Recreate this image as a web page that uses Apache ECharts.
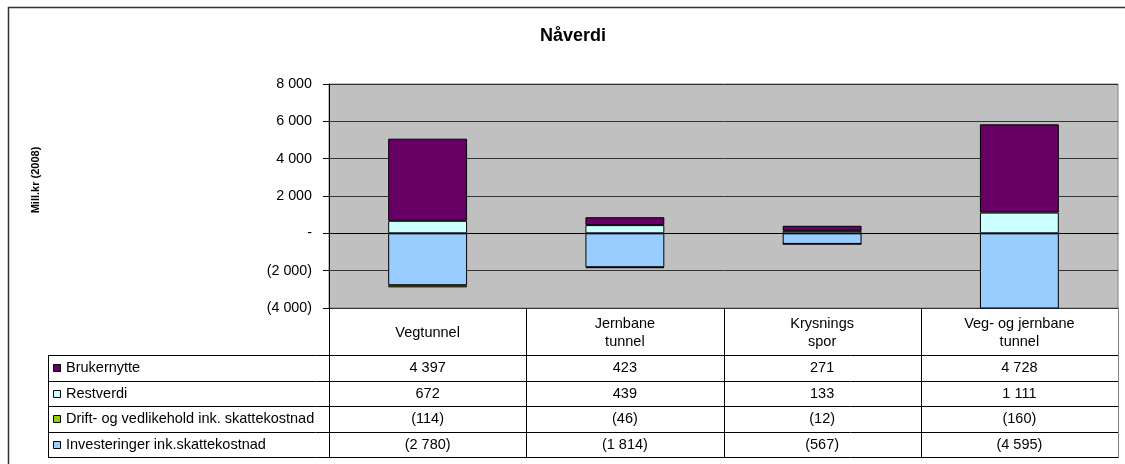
<!DOCTYPE html>
<html>
<head>
<meta charset="utf-8">
<script src="https://cdn.jsdelivr.net/npm/echarts@6/dist/echarts.min.js"></script>
<style>
html,body{margin:0;padding:0;background:#fff;}
#chart{width:1125px;height:464px;}
</style>
</head>
<body>
<div id="chart"></div>
<script>
// ---- data ----
const title = 'Nåverdi';
const yAxisTitle = 'Mill.kr (2008)';
const categories = ['Vegtunnel', 'Jernbane\ntunnel', 'Krysnings\nspor', 'Veg- og jernbane\ntunnel'];
const brukernytte = [4397, 423, 271, 4728];
const restverdi = [672, 439, 133, 1111];
const drift = [-114, -46, -12, -160];
const investeringer = [-2780, -1814, -567, -4595];
const seriesNames = ['Brukernytte', 'Restverdi', 'Drift- og vedlikehold ink. skattekostnad', 'Investeringer ink.skattekostnad'];
const seriesValues = [brukernytte, restverdi, drift, investeringer];
const seriesColors = ['#660066', '#CCFFFF', '#99CC00', '#99CCFF'];
const yMin = -4000, yMax = 8000, yStep = 2000;

// ---- helpers ----
function fmt(v) {
  if (v === 0) return '-';
  const s = String(Math.abs(v)).replace(/\B(?=(\d{3})+(?!\d))/g, ' ');
  return v < 0 ? '(' + s + ')' : s;
}

// ---- layout ----
const FONT = '"Liberation Sans", Arial, sans-serif';
const G = { left: 329, top: 84, width: 789, height: 224 };
const gBottom = G.top + G.height;
const headerBottom = 355;
const rowH = 25.5;
const tableLeft = 48;
const tableBottom = headerBottom + rowH * seriesNames.length;
const catW = G.width / categories.length;
const FS = 14.5;

const graphics = [];
// outer frame
graphics.push({ type: 'rect', shape: { x: 8.5, y: 7.5, width: 1140, height: 480 }, style: { fill: 'none', stroke: '#333', lineWidth: 1.5 }, silent: true });
// y axis title
graphics.push({ type: 'text', x: 36, y: 180, rotation: Math.PI / 2,
  style: { text: yAxisTitle, font: 'bold 11px ' + FONT, fill: '#000', align: 'center', verticalAlign: 'middle' } });
// table horizontal lines
graphics.push({ type: 'line', shape: { x1: G.left, y1: gBottom + 0.5, x2: G.left + G.width, y2: gBottom + 0.5 }, style: { stroke: '#000', lineWidth: 1 } });
for (let i = 0; i <= seriesNames.length; i++) {
  const y = Math.round(headerBottom + rowH * i) + 0.5;
  graphics.push({ type: 'line', shape: { x1: tableLeft, y1: y, x2: G.left + G.width, y2: y }, style: { stroke: '#000', lineWidth: 1 } });
}
// table vertical lines
graphics.push({ type: 'line', shape: { x1: tableLeft + 0.5, y1: headerBottom, x2: tableLeft + 0.5, y2: tableBottom + 1 }, style: { stroke: '#000', lineWidth: 1 } });
for (let c = 0; c <= categories.length; c++) {
  const x = Math.round(G.left + catW * c) + 0.5;
  graphics.push({ type: 'line', shape: { x1: x, y1: gBottom, x2: x, y2: tableBottom + 1 }, style: { stroke: c === categories.length ? '#808080' : '#000', lineWidth: 1 } });
}
// header labels
categories.forEach((name, c) => {
  graphics.push({ type: 'text', x: G.left + catW * (c + 0.5), y: (gBottom + headerBottom) / 2 + 1,
    style: { text: name, font: FS + 'px ' + FONT, fill: '#000', align: 'center', verticalAlign: 'middle', lineHeight: 18 } });
});
// rows
seriesNames.forEach((name, r) => {
  const cy = headerBottom + rowH * (r + 0.5) + 0.5;
  graphics.push({ type: 'rect', shape: { x: 53.5, y: Math.round(cy) - 3.5, width: 7, height: 7 }, style: { fill: seriesColors[r], stroke: '#000', lineWidth: 1 } });
  graphics.push({ type: 'text', x: 66, y: cy, style: { text: name, font: FS + 'px ' + FONT, fill: '#000', align: 'left', verticalAlign: 'middle' } });
  seriesValues[r].forEach((v, c) => {
    graphics.push({ type: 'text', x: G.left + catW * (c + 0.5), y: cy,
      style: { text: fmt(v), font: FS + 'px ' + FONT, fill: '#000', align: 'center', verticalAlign: 'middle' } });
  });
});

// stacked series: Excel stacking order (investments first, user benefit last)
const stackOrder = [3, 2, 1, 0];
const series = stackOrder.map(i => ({
  name: seriesNames[i],
  type: 'bar',
  stack: 'total',
  data: seriesValues[i],
  barWidth: '40%',
  itemStyle: { color: seriesColors[i], borderColor: '#000', borderWidth: 1 },
  clip: true,
  animation: false
}));

const chart = echarts.init(document.getElementById('chart'), null, { renderer: 'canvas' });
chart.setOption({
  animation: false,
  backgroundColor: '#fff',
  title: {
    text: title, left: 568, top: 22, textAlign: 'center',
    textStyle: { fontFamily: FONT, fontWeight: 'bold', fontSize: 18, color: '#000' }
  },
  grid: { left: G.left, top: G.top, width: G.width, height: G.height, show: true,
    backgroundColor: '#C0C0C0', borderColor: '#808080', borderWidth: 1, containLabel: false },
  xAxis: {
    type: 'category', data: categories,
    axisLine: { show: true, onZero: true, lineStyle: { color: '#000', width: 1 } },
    axisTick: { show: false }, axisLabel: { show: false }, splitLine: { show: false }
  },
  yAxis: {
    type: 'value', min: yMin, max: yMax, interval: yStep,
    axisLine: { show: true, lineStyle: { color: '#000', width: 1 } },
    axisTick: { show: true, inside: false, length: 6, lineStyle: { color: '#000' } },
    axisLabel: { margin: 17, formatter: fmt, fontFamily: FONT, fontSize: 14.3, color: '#000' },
    splitLine: { show: true, lineStyle: { color: '#333', width: 1 } }
  },
  series: series,
  graphic: graphics
});
</script>
</body>
</html>
